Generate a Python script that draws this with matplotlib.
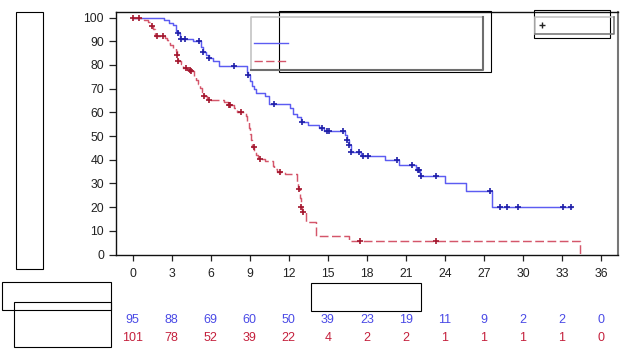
import numpy as np
import matplotlib
matplotlib.use("Agg")
import matplotlib.pyplot as plt
from matplotlib.patches import Rectangle
from matplotlib.lines import Line2D
from matplotlib.transforms import blended_transform_factory

plt.rcParams['font.family'] = ['Liberation Sans', 'DejaVu Sans']

# survival curves (months, % surviving), step after each time
blue_t = [0, 2.4, 2.8, 3.1, 3.3, 3.45, 3.6, 4.6, 5.25, 5.4, 5.6, 5.85, 6.2, 6.6, 8.75, 8.85, 9.0, 9.15, 9.3, 9.45,
          10.2, 10.45, 12.1, 12.3, 12.6, 12.9, 13.5, 14.3, 14.7, 16.3, 16.45, 16.6, 16.75, 17.55, 19.4, 20.5, 21.8,
          22.1, 24.0, 25.6, 27.6]
blue_s = [100, 98.9, 97.8, 96.7, 94.4, 93.3, 91.1, 90.0, 87.7, 85.4, 84.2, 83.0, 81.8, 79.6, 77.0, 75.8, 73.4, 71.0,
          69.8, 68.3, 67.0, 63.6, 62.0, 59.4, 57.9, 56.0, 54.6, 53.5, 52.3, 50.4, 48.3, 46.3, 43.4, 41.7, 39.8, 37.8,
          35.7, 33.0, 30.2, 26.9, 20.2]
blue_end = 33.8
blue_cens = [3.45, 3.7, 4.0, 5.1, 5.4, 5.9, 7.75, 8.85, 10.85, 13.0, 14.55, 14.9, 15.1, 16.2, 16.5, 16.6, 16.8, 17.4,
             17.7, 18.1, 20.3, 21.5, 21.9, 22.0, 22.15, 23.3, 27.5, 28.2, 28.8, 29.6, 33.1, 33.7]

red_t = [0, 0.9, 1.2, 1.4, 1.55, 1.7, 2.5, 2.6, 2.75, 2.9, 3.1, 3.3, 3.4, 3.5, 3.7, 3.9, 4.2, 4.45, 4.7, 4.9,
         5.05, 5.2, 5.3, 5.45, 5.75, 7.0, 7.35, 7.8, 8.0, 8.7, 8.8, 8.95, 9.05, 9.1, 9.2, 9.35, 9.45, 9.6, 10.15, 10.75,
         10.9, 11.1, 11.7, 12.6, 12.7, 12.85, 12.9, 13.05, 13.3, 14.1, 16.6, 34.4]
red_s = [100, 99.0, 98.0, 96.6, 95.0, 92.4, 91.4, 90.4, 89.4, 88.3, 87.2, 85.9, 84.4, 81.8, 80.6, 78.7, 78.0, 77.3,
         75.5, 73.7, 72.0, 70.2, 68.5, 66.7, 65.3, 64.3, 63.1, 62.0, 60.3, 58.3, 56.0, 53.5, 51.0, 48.5, 45.2, 43.5,
         41.9, 40.5, 39.3, 37.5, 36.2, 34.9, 33.8, 30.5, 27.5, 24.0, 20.0, 17.8, 13.9, 7.9, 5.9, 0]
red_cens = [0.05, 0.47, 1.5, 1.84, 2.36, 3.43, 3.5, 4.07, 4.4, 4.5, 5.5, 5.86, 7.4, 7.5, 8.3, 9.3, 9.77, 11.3,
            12.75, 12.95, 13.1, 17.5, 23.3]

risk_times = [0, 3, 6, 9, 12, 15, 18, 21, 24, 27, 30, 33, 36]
risk_blue = [95, 88, 69, 60, 50, 39, 23, 19, 11, 9, 2, 2, 0]
risk_red = [101, 78, 52, 39, 22, 4, 2, 2, 1, 1, 1, 1, 0]

BLUE_LINE = '#5c5cf2'
BLUE_MARK = '#1f1fa8'
RED_LINE = '#d4566a'
RED_MARK = '#a3162e'
BLUE_TXT = '#4a4ae6'
RED_TXT = '#c4203c'

W, H = 627, 356


def surv_at(times, surv, pts):
    idx = np.searchsorted(times, pts, side='right') - 1
    return np.array(surv)[idx]


def box(fig, x0, y0, x1, y1, **kw):
    # pixel box (top-left origin) -> figure coords
    r = Rectangle((x0 / W, 1 - y1 / H), (x1 - x0) / W, (y1 - y0) / H,
                  transform=fig.transFigure, fill=False, **kw)
    fig.add_artist(r)


def fline(fig, xs, ys, **kw):
    fig.add_artist(Line2D([x / W for x in xs], [1 - y / H for y in ys], transform=fig.transFigure, **kw))


fig = plt.figure(figsize=(W / 100, H / 100), dpi=100)
ax = fig.add_axes([115.7 / W, 1 - 254.6 / H, (617.5 - 115.7) / W, (254.6 - 12.3) / H])

bt = list(blue_t) + [blue_end]
bs = list(blue_s) + [blue_s[-1]]
ax.step(bt, bs, where='post', color=BLUE_LINE, lw=1.05, zorder=3)
ax.plot(blue_cens, surv_at(blue_t, blue_s, blue_cens), ls='none', marker='+', ms=5, mew=1.2,
        color=BLUE_MARK, zorder=4)

ax.step(red_t, red_s, where='post', color=RED_LINE, lw=1.05, dashes=(6, 2.4), zorder=3)
ax.plot(red_cens, surv_at(red_t, red_s, red_cens), ls='none', marker='+', ms=5, mew=1.2,
        color=RED_MARK, zorder=4)

ax.set_xlim(-1.307, 37.27)
ax.set_ylim(0, 102.2)
ax.set_xticks(risk_times)
ax.set_yticks(range(0, 101, 10))
ax.tick_params(axis='y', length=5.3, width=0.9, pad=3.2, labelsize=8.8, colors='#222222')
ax.tick_params(axis='x', length=4.3, width=0.9, pad=5.5, labelsize=8.8, colors='#222222')
for s in ['left', 'bottom', 'top']:
    ax.spines[s].set_color('#111111')
    ax.spines[s].set_linewidth(1.0)
ax.spines['right'].set_color('#777777')
ax.spines['right'].set_linewidth(1.5)

# number at risk
tr = blended_transform_factory(ax.transData, fig.transFigure)
for t, b, r in zip(risk_times, risk_blue, risk_red):
    ax.text(t, 1 - 320 / H, str(b), transform=tr, ha='center', va='center', fontsize=9, color=BLUE_TXT,
            clip_on=False)
    ax.text(t, 1 - 337.7 / H, str(r), transform=tr, ha='center', va='center', fontsize=9, color=RED_TXT,
            clip_on=False)

# legend frames (text removed in the original)
fline(fig, [250.7, 250.7, 483.3], [70, 17.3, 17.3], color='#c4c4c4', lw=1.2)
fline(fig, [250.7, 483.3, 483.3], [70, 70, 17.3], color='#6e6e6e', lw=1.5)
fline(fig, [254, 288], [43.3, 43.3], color=BLUE_LINE, lw=1.0)
fline(fig, [254, 288], [61, 61], color=RED_LINE, lw=1.0, dashes=(6, 2.4))
fline(fig, [535.3, 535.3, 614], [34.3, 16.7, 16.7], color='#c4c4c4', lw=1.2)
fline(fig, [535.3, 614, 614], [34.3, 34.3, 16.7], color='#7a7a7a', lw=1.2)
fline(fig, [541.7], [25.3], ls='none', marker='+', ms=5, mew=1.0, color='#222222')

# blank boxes
for x0, y0, x1, y1 in [(15.7, 12.3, 43.3, 269.3), (1.7, 282.3, 111, 310.3), (14.3, 302, 111, 347.3),
                       (311.3, 283.3, 421.3, 311), (279.3, 10.7, 491, 71.7), (534.3, 10, 610.3, 38.3)]:
    box(fig, x0, y0, x1, y1, edgecolor='black', lw=0.8)

fig.savefig('out.png', dpi=100)
